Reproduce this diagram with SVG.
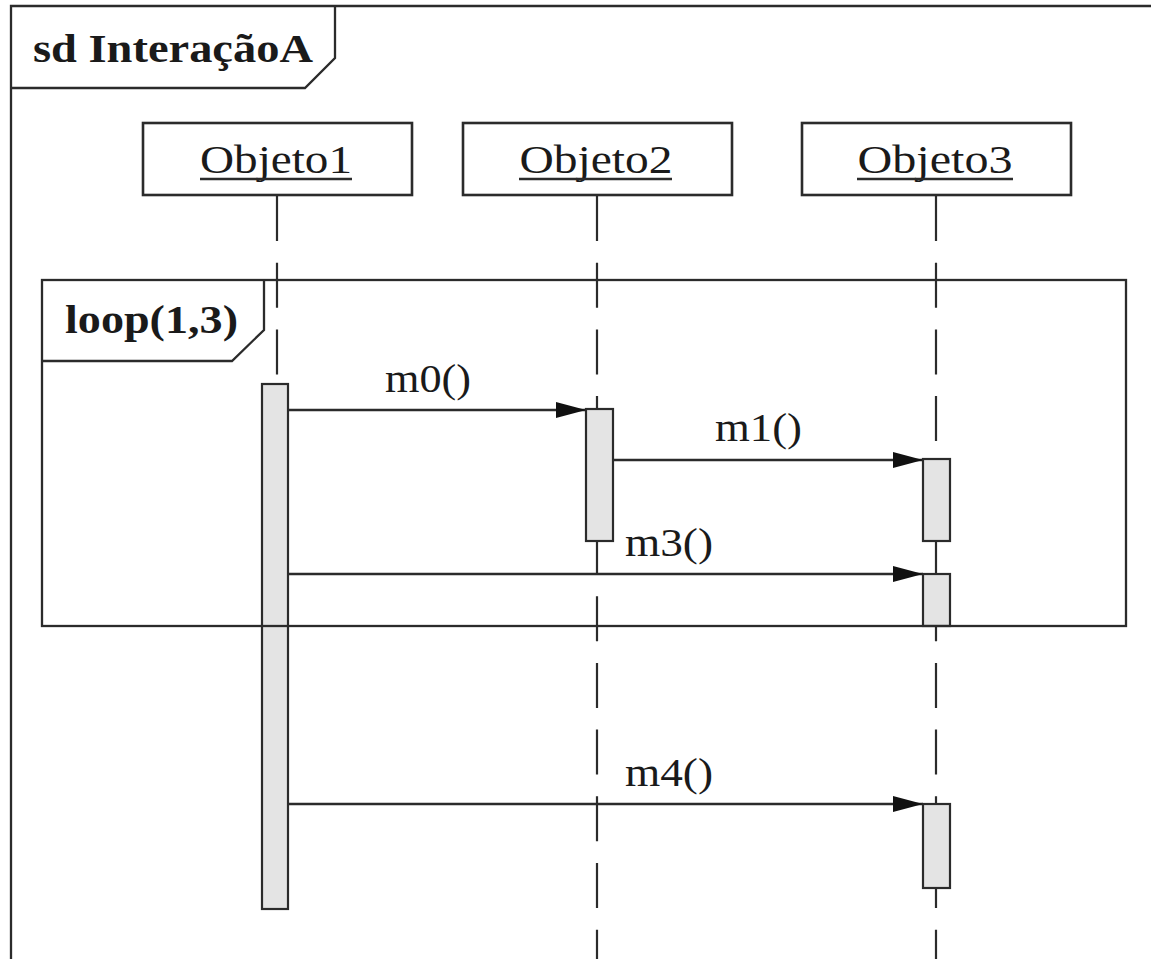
<svg xmlns="http://www.w3.org/2000/svg" width="1151" height="959" viewBox="0 0 1151 959">
<defs>
<style>
.ln{fill:none;stroke:#2b2b2b;stroke-width:2.3}
.box{fill:#ffffff;stroke:#2b2b2b;stroke-width:2.6}
.life{fill:none;stroke:#2b2b2b;stroke-width:2.2;stroke-dasharray:45 21.7}
.bar{fill:#e4e4e4;stroke:#2b2b2b;stroke-width:2.2}
.msg{fill:none;stroke:#2b2b2b;stroke-width:2.3}
.t{font-family:"Liberation Serif","DejaVu Serif",serif;font-size:41px;fill:#1a1a1a}
.b{font-weight:bold;font-size:39px}
</style>
<marker id="ah" viewBox="0 0 30 18" refX="30" refY="9" markerWidth="30" markerHeight="18" markerUnits="userSpaceOnUse" orient="auto">
<path d="M0,1 L30,9 L0,17 Z" fill="#111"/>
</marker>
</defs>
<rect width="1151" height="959" fill="#ffffff"/>

<g id="frame-sd">
<path class="ln" d="M11,970 L11,6 L1160,6"/>
<path class="ln" d="M11,88 L305,88 L335,58 L335,6"/>
<text class="t b" x="33" y="62" textLength="280" lengthAdjust="spacingAndGlyphs">sd InteraçãoA</text>
</g>

<g id="lifelines">
<line class="life" x1="277" y1="196" x2="277" y2="385"/>
<line class="life" x1="597" y1="196" x2="597" y2="970"/>
<line class="life" x1="936" y1="196" x2="936" y2="970"/>
</g>

<g id="Objeto1">
<rect class="box" x="143" y="123" width="269" height="72"/>
<text class="t" x="276" y="173" text-anchor="middle" textLength="152" lengthAdjust="spacingAndGlyphs">Objeto1</text>
<line class="ln" x1="200" y1="179" x2="352" y2="179" stroke-width="1.8"/>
</g>
<g id="Objeto2">
<rect class="box" x="463" y="123" width="269" height="72"/>
<text class="t" x="596" y="173" text-anchor="middle" textLength="153" lengthAdjust="spacingAndGlyphs">Objeto2</text>
<line class="ln" x1="519" y1="179" x2="672" y2="179" stroke-width="1.8"/>
</g>
<g id="Objeto3">
<rect class="box" x="802" y="123" width="269" height="72"/>
<text class="t" x="935" y="173" text-anchor="middle" textLength="155" lengthAdjust="spacingAndGlyphs">Objeto3</text>
<line class="ln" x1="857" y1="179" x2="1013" y2="179" stroke-width="1.8"/>
</g>

<g id="activations">
<rect class="bar" x="262" y="384" width="26" height="525"/>
<rect class="bar" x="586" y="409" width="27" height="132"/>
<rect class="bar" x="923" y="459" width="27" height="82"/>
<rect class="bar" x="923" y="574" width="27" height="52"/>
<rect class="bar" x="923" y="804" width="27" height="84"/>
</g>

<g id="loop">
<rect class="ln" x="42" y="280" width="1084" height="346"/>
<path class="ln" d="M42,361 L232,361 L264,330 L264,280"/>
<text class="t b" x="65" y="333" textLength="173" lengthAdjust="spacingAndGlyphs">loop(1,3)</text>
</g>

<g id="connectors">
<line class="msg" x1="288" y1="410" x2="586" y2="410" marker-end="url(#ah)"/>
<line class="msg" x1="613" y1="460" x2="923" y2="460" marker-end="url(#ah)"/>
<line class="msg" x1="288" y1="574" x2="923" y2="574" marker-end="url(#ah)"/>
<line class="msg" x1="288" y1="804" x2="923" y2="804" marker-end="url(#ah)"/>
<text class="t" x="385" y="392" textLength="86" lengthAdjust="spacingAndGlyphs">m0()</text>
<text class="t" x="715" y="441" textLength="87" lengthAdjust="spacingAndGlyphs">m1()</text>
<text class="t" x="625" y="556" textLength="88" lengthAdjust="spacingAndGlyphs">m3()</text>
<text class="t" x="625" y="786" textLength="88" lengthAdjust="spacingAndGlyphs">m4()</text>
</g>
</svg>
